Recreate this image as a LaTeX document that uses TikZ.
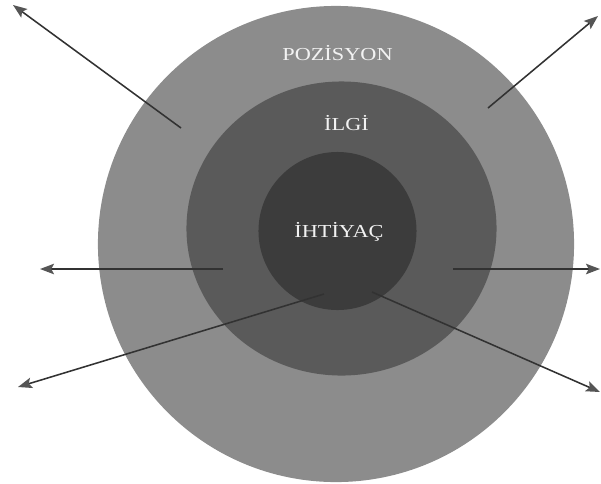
\documentclass[tikz,border=0pt]{standalone}
\usepackage{fontspec}
\newfontfamily\ringfont{Liberation Serif}[FakeStretch=1.22]
\usetikzlibrary{shapes.geometric,arrows.meta}
\definecolor{ringouter}{RGB}{140, 140, 140}
\definecolor{ringmiddle}{RGB}{90, 90, 90}
\definecolor{ringinner}{RGB}{60, 60, 60}
\definecolor{arrowgray}{RGB}{50, 50, 50}
\definecolor{headgray}{RGB}{85, 85, 85}
\definecolor{labelwhite}{RGB}{242, 242, 242}

\begin{document}
\begin{tikzpicture}[x=0.025cm, y=-0.025cm,
		% Node styles
		ring/.style={draw=none, fill=#1, inner sep=0pt},
		outer_ring/.style={ring=ringouter, circle, minimum size=11.9cm},
		middle_ring/.style={ring=ringmiddle, ellipse, minimum width=7.75cm, minimum height=7.35cm},
		inner_ring/.style={ring=ringinner, circle, minimum size=3.95cm},
		ringlabel/.style={text=labelwhite, inner sep=0pt, font=\ringfont\fontsize{13}{15}\selectfont},
		connector/.style={-{Stealth[length=10pt, width=7.5pt, inset=2pt, color=headgray]}, draw=arrowgray, line width=1.1pt},
	]

	\useasboundingbox (0,0) rectangle (601,483);

	% Rings, from the outside in
	\node[outer_ring] (position) at (336,244) {};
	\node[middle_ring] (interest) at (341.5,228.5) {};
	\node[inner_ring] (need) at (337.5,231) {};

	% Labels
	\node[ringlabel] (position_label) at (337.5,53) {POZİSYON};
	\node[ringlabel] (interest_label) at (346.5,123) {İLGİ};
	\node[ringlabel] (need_label) at (339,231.5) {İHTİYAÇ};

	% Arrow ends
	\coordinate (ul_start) at (181,128);
	\coordinate (ul_end) at (13,5);
	\coordinate (ur_start) at (488,108);
	\coordinate (ur_end) at (598,16);
	\coordinate (l_start) at (223,269);
	\coordinate (l_end) at (40,269);
	\coordinate (r_start) at (453,269);
	\coordinate (r_end) at (600,269);
	\coordinate (ll_start) at (324,294);
	\coordinate (ll_end) at (18,387);
	\coordinate (lr_start) at (372,292);
	\coordinate (lr_end) at (600,392);

	% Connections
	\draw[connector] (ul_start) -- (ul_end);
	\draw[connector] (ur_start) -- (ur_end);
	\draw[connector] (l_start) -- (l_end);
	\draw[connector] (r_start) -- (r_end);
	\draw[connector] (ll_start) -- (ll_end);
	\draw[connector] (lr_start) -- (lr_end);

\end{tikzpicture}
\end{document}
